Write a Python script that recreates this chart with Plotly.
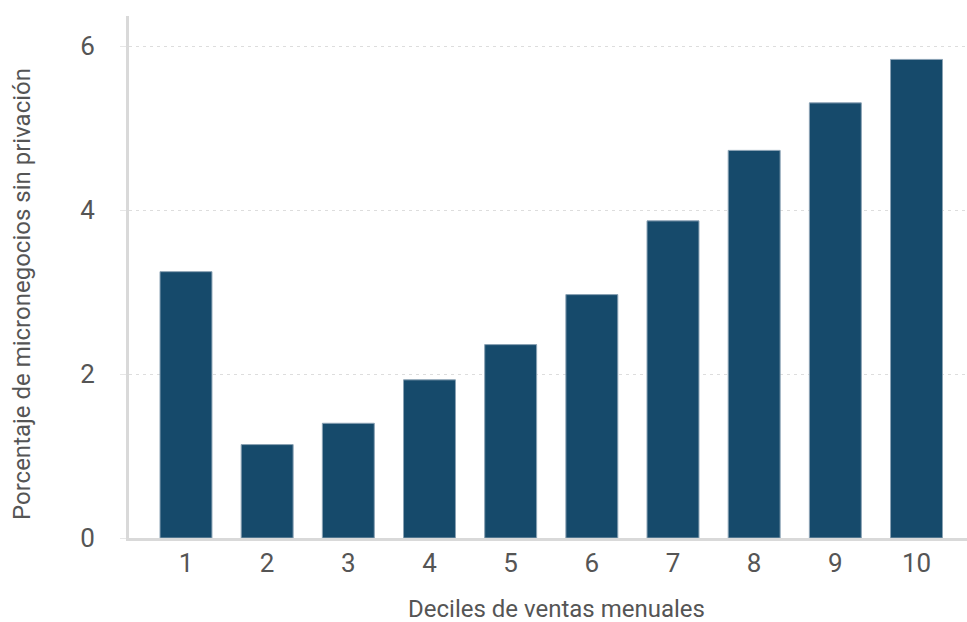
import plotly.graph_objects as go

# Deciles of monthly sales and share of micro-businesses without deprivation (%)
deciles = [1, 2, 3, 4, 5, 6, 7, 8, 9, 10]
porcentaje = [3.25, 1.14, 1.40, 1.93, 2.36, 2.97, 3.87, 4.73, 5.31, 5.84]
y_ticks = [0, 2, 4, 6]

x_title = "Deciles de ventas menuales"
y_title = "Porcentaje de micronegocios sin privación"

W, H = 967, 622
L, R, T, B = 129, 0, 16, 84

fig = go.Figure(
    go.Bar(
        x=deciles,
        y=porcentaje,
        width=0.64,
        marker=dict(color="#164a6b", line=dict(color="#8aa2b4", width=1)),
        hoverinfo="x+y",
    )
)

tick_font = dict(family="Roboto, sans-serif", size=26, color="#555555")
title_font = dict(family="Roboto, sans-serif", size=24, color="#555555")

fig.update_layout(
    width=W,
    height=H,
    margin=dict(l=L, r=R, t=T, b=B, pad=0),
    paper_bgcolor="white",
    plot_bgcolor="white",
    showlegend=False,
    xaxis=dict(
        range=[0.298, 10.622],
        tickmode="array",
        tickvals=deciles,
        ticktext=[str(d) for d in deciles],
        tickfont=tick_font,
        showgrid=False,
        zeroline=False,
        showline=True,
        linecolor="#d9d9d9",
        linewidth=3,
        ticks="",
        ticklabelstandoff=0,
        fixedrange=True,
    ),
    yaxis=dict(
        range=[0, 6.37],
        tickmode="array",
        tickvals=y_ticks,
        ticktext=[str(v) for v in y_ticks],
        tickfont=tick_font,
        showgrid=True,
        gridcolor="#dddddd",
        gridwidth=1,
        griddash="3px,4px",
        zeroline=False,
        showline=True,
        linecolor="#d9d9d9",
        linewidth=3,
        ticks="outside",
        ticklen=6,
        tickcolor="#e6e6e6",
        tickwidth=1,
        ticklabelstandoff=20,
        fixedrange=True,
    ),
    annotations=[
        dict(
            text=x_title,
            xref="paper",
            yref="paper",
            x=(556 - L) / (W - L - R),
            y=(538 - 609) / (H - T - B),
            xanchor="center",
            yanchor="middle",
            showarrow=False,
            font=title_font,
        ),
        dict(
            text=y_title,
            xref="paper",
            yref="paper",
            x=(22 - L) / (W - L - R),
            y=(538 - 294) / (H - T - B),
            xanchor="center",
            yanchor="middle",
            textangle=-90,
            showarrow=False,
            font=title_font,
        ),
    ],
)

fig.write_html("out.html")
